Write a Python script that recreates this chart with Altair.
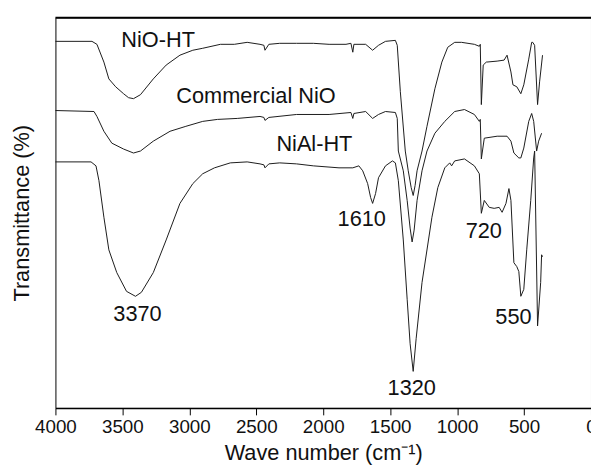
import altair as alt
import pandas as pd

# NiO-HT (top trace): wavenumber (cm-1) and transmittance (arbitrary units)
nio_ht_wn = [4000, 3727, 3690, 3638, 3601, 3550, 3491, 3454, 3417, 3365, 3269, 3173, 3070, 2974, 2900,
             2768, 2664, 2568, 2472, 2443, 2435, 2406, 2325, 2199, 2074, 1956, 1830, 1793, 1779, 1771,
             1683, 1631, 1587, 1535, 1461, 1447, 1424, 1387, 1365, 1343, 1328, 1314, 1299, 1262, 1225,
             1166, 1114, 1070, 1018, 967, 871, 834, 827, 819, 805, 782, 701, 649, 627, 598,
             583, 554, 524, 502, 465, 443, 435, 421, 399, 384, 362]
nio_ht_t = [371, 371, 368, 350, 333, 325, 318, 314, 313, 317, 333, 347, 357, 362, 364,
            368, 368, 370, 368, 367, 362, 368, 369, 369, 369, 368, 368, 369, 360, 368,
            368, 362, 367, 371, 372, 367, 320, 260, 240, 223, 215, 225, 240, 260, 285,
            323, 350, 365, 370, 370, 368, 366, 368, 307, 347, 350, 351, 352, 357, 340,
            327, 325, 318, 327, 353, 370, 370, 367, 307, 330, 357]

# Commercial NiO (middle trace)
com_wn = [4000, 3712, 3690, 3638, 3579, 3491, 3417, 3365, 3269, 3144, 3026, 2900, 2790, 2642, 2472,
          2443, 2435, 2406, 2199, 1956, 1793, 1779, 1771, 1683, 1631, 1587, 1535, 1461, 1447, 1439,
          1402, 1373, 1351, 1336, 1321, 1299, 1262, 1225, 1166, 1092, 1018, 945, 871, 834, 827,
          819, 797, 701, 627, 598, 576, 539, 524, 502, 465, 443, 428, 406, 391, 369]
com_t = [301, 300, 295, 280, 268, 262, 258, 260, 270, 280, 285, 290, 292, 293, 295,
         294, 291, 294, 297, 297, 299, 293, 298, 300, 293, 297, 300, 299, 293, 260,
         240, 210, 182, 168, 180, 210, 240, 260, 278, 290, 300, 302, 297, 290, 292,
         252, 273, 275, 275, 270, 258, 253, 253, 263, 290, 298, 290, 260, 270, 278]

# NiAl-HT (bottom trace)
nial_wn = [4000, 3734, 3697, 3675, 3638, 3601, 3542, 3469, 3402, 3358, 3269, 3173, 3070, 2974, 2900,
           2812, 2694, 2568, 2472, 2443, 2435, 2406, 2325, 2199, 2074, 1882, 1779, 1734, 1705, 1668,
           1646, 1631, 1609, 1587, 1535, 1483, 1461, 1439, 1402, 1373, 1351, 1328, 1306, 1262, 1188,
           1144, 1092, 1055, 1041, 1018, 945, 871, 834, 819, 797, 760, 723, 686, 664, 635,
           613, 598, 576, 554, 539, 524, 502, 480, 450, 428, 421, 399, 376, 369, 362]
nial_t = [249, 249, 245, 230, 193, 160, 137, 118, 113, 117, 137, 170, 207, 227, 237,
          243, 248, 249, 247, 246, 243, 247, 248, 247, 245, 243, 243, 245, 240, 227,
          213, 207, 217, 233, 245, 250, 248, 230, 170, 110, 65, 37, 70, 127, 193,
          223, 243, 248, 245, 250, 252, 245, 237, 197, 210, 203, 202, 203, 198, 207,
          222, 210, 147, 143, 138, 113, 120, 160, 210, 253, 260, 83, 127, 155, 153]

# Annotations
label_text = ["NiO-HT", "Commercial NiO", "NiAl-HT", "3370", "1610", "1320", "720", "550"]
label_wn = [3233, 2502, 2066, 3387, 1712, 1339, 801, 579]
label_t = [372, 316, 267, 95, 191, 20, 179, 92]

x_ticks = [v * 250 for v in range(17)]

frames = []
for name, wn, t in [("NiO-HT", nio_ht_wn, nio_ht_t),
                    ("Commercial NiO", com_wn, com_t),
                    ("NiAl-HT", nial_wn, nial_t)]:
    frames.append(pd.DataFrame({"series": name, "wn": wn, "t": t, "idx": range(len(wn))}))
df = pd.concat(frames, ignore_index=True)
labels_df = pd.DataFrame({"label": label_text, "wn": label_wn, "t": label_t})

FONT = "Liberation Sans"

x_scale = alt.Scale(domain=[0, 4000], reverse=True, nice=False, zero=False)
y_scale = alt.Scale(domain=[0, 395], nice=False, zero=False)

x_axis = alt.Axis(
    values=x_ticks,
    labelExpr="datum.value % 500 === 0 ? datum.label : ''",
    format="d",
    tickSize={"condition": {"test": "datum.value % 500 === 0", "value": 7}, "value": 4},
    tickColor="black",
    tickWidth=1,
    domainColor="black",
    domainWidth=1.5,
    labelFont=FONT,
    labelFontSize=19,
    labelColor="#111111",
    labelPadding=3,
    labelOverlap=False,
    labelFlush=False,
    grid=False,
    titleFont=FONT,
    titleFontSize=22,
    titleFontWeight="normal",
    titleColor="#111111",
    titlePadding=6,
)
y_axis = alt.Axis(
    labels=False, ticks=False, domain=False, grid=False,
    titleFont=FONT, titleFontSize=22, titleFontWeight="normal",
    titleColor="#111111", titlePadding=22,
)

lines = alt.Chart(df).mark_line(color="#1a1a1a", strokeWidth=1).encode(
    x=alt.X("wn:Q", scale=x_scale, axis=x_axis, title="Wave number (cm⁻¹)"),
    y=alt.Y("t:Q", scale=y_scale, axis=y_axis, title="Transmittance (%)"),
    detail="series:N",
    order="idx:Q",
)

texts = alt.Chart(labels_df).mark_text(
    font=FONT, fontSize=22, color="#111111", align="center", baseline="middle"
).encode(
    x=alt.X("wn:Q", scale=x_scale),
    y=alt.Y("t:Q", scale=y_scale),
    text="label:N",
)

top_rule = alt.Chart(pd.DataFrame({"a": [0]})).mark_rule(color="black", strokeWidth=2).encode(
    x=alt.value(0), x2=alt.value(542), y=alt.value(0)
)

chart = alt.layer(lines, texts, top_rule).properties(
    width=542,
    height=395,
    padding={"left": 48, "top": 7, "right": 0, "bottom": 56},
    autosize=alt.AutoSizeParams(type="none"),
).configure_view(stroke="black", strokeWidth=1)

chart.save("out.html", embed_options={"renderer": "svg", "actions": False})
